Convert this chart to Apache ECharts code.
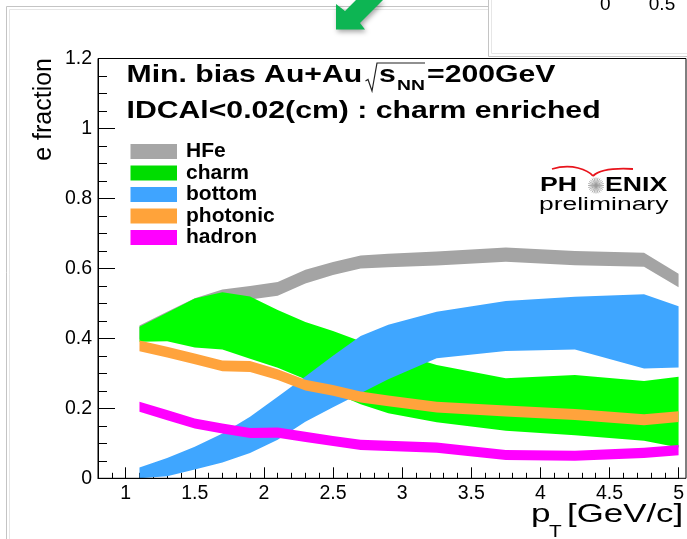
<!DOCTYPE html>
<html>
<head>
<meta charset="utf-8">
<script src="https://cdn.jsdelivr.net/npm/echarts@6/dist/echarts.min.js"></script>
<style>
  html, body { margin: 0; padding: 0; background: #fff; }
  #chart { width: 687px; height: 539px; }
</style>
</head>
<body>
<div id="chart"></div>
<script>
// ---- data ----
const pt = [1.1, 1.3, 1.5, 1.7, 1.9, 2.1, 2.3, 2.5, 2.7, 2.9, 3.25, 3.75, 4.25, 4.75, 5.0];

const hfeHi = [0.437, 0.476, 0.515, 0.540, 0.550, 0.561, 0.596, 0.618, 0.637, 0.642, 0.648, 0.660, 0.650, 0.645, 0.585];
const hfeLo = [0.397, 0.436, 0.476, 0.500, 0.511, 0.522, 0.557, 0.581, 0.600, 0.603, 0.608, 0.619, 0.609, 0.605, 0.546];

const charmHi = [0.433, 0.473, 0.514, 0.532, 0.520, 0.481, 0.447, 0.421, 0.392, 0.365, 0.324, 0.286, 0.295, 0.278, 0.290];
const charmLo = [0.390, 0.392, 0.374, 0.368, 0.342, 0.316, 0.283, 0.245, 0.212, 0.186, 0.160, 0.136, 0.123, 0.107, 0.088];

const bottomHi = [0.031, 0.058, 0.090, 0.128, 0.176, 0.233, 0.291, 0.350, 0.407, 0.439, 0.476, 0.507, 0.519, 0.526, 0.492];
const bottomLo = [-0.020, 0.006, 0.025, 0.045, 0.072, 0.110, 0.162, 0.203, 0.243, 0.283, 0.343, 0.364, 0.368, 0.314, 0.317];

const photonicHi = [0.394, 0.376, 0.357, 0.337, 0.335, 0.312, 0.282, 0.267, 0.248, 0.237, 0.219, 0.208, 0.198, 0.183, 0.192];
const photonicLo = [0.363, 0.345, 0.326, 0.306, 0.304, 0.281, 0.251, 0.236, 0.217, 0.206, 0.188, 0.177, 0.167, 0.152, 0.161];

const hadronHi = [0.219, 0.195, 0.171, 0.157, 0.144, 0.145, 0.133, 0.121, 0.110, 0.107, 0.102, 0.081, 0.079, 0.087, 0.095];
const hadronLo = [0.190, 0.166, 0.142, 0.128, 0.115, 0.116, 0.104, 0.092, 0.081, 0.078, 0.073, 0.052, 0.050, 0.058, 0.066];

const bandNames = ['HFe', 'charm', 'bottom', 'photonic', 'hadron'];
const xMajorTicks = [1, 1.5, 2, 2.5, 3, 3.5, 4, 4.5, 5];
const yMajorTicks = [0, 0.2, 0.4, 0.6, 0.8, 1, 1.2];

// ---- styling ----
const FONT = 'Liberation Sans, Arial, Helvetica, sans-serif';
const bandColors = ['#a4a4a4', '#00ff00', '#3fa6ff', '#ffa33c', '#ff00ff'];
const legendColors = ['#a6a6a6', '#00dd00', '#3fa4ff', '#ffa33a', '#ff00ff'];
const bandLo = [hfeLo, charmLo, bottomLo, photonicLo, hadronLo];
const bandHi = [hfeHi, charmHi, bottomHi, photonicHi, hadronHi];

// each band is one filled polygon between its lower and upper edge,
// positioned through the cartesian axes (api.coord)
function bandRenderer(color) {
  return function (params, api) {
    if (params.dataIndexInside !== 0) return null;
    const n = params.dataInsideLength;
    const upper = [], lower = [];
    for (let j = 0; j < n; j++) {
      const x = api.value(0, j);
      upper.push(api.coord([x, api.value(1, j)]));
      lower.push(api.coord([x, api.value(2, j)]));
    }
    const pts = upper.concat(lower.reverse());
    const cs = params.coordSys;
    return {
      type: 'polygon',
      shape: { points: echarts.graphic.clipPointsByRect(pts, { x: cs.x, y: cs.y, width: cs.width, height: cs.height }) },
      style: { fill: color, stroke: null }
    };
  };
}

const series = bandNames.map((name, k) => ({
  name: name,
  type: 'custom',
  clip: true,
  silent: true,
  itemStyle: { color: bandColors[k] },
  encode: { x: 0, y: 1 },
  data: pt.map((x, i) => [x, bandHi[k][i], bandLo[k][i]]),
  renderItem: bandRenderer(bandColors[k]),
  z: 2 + k
}));

function txt(x, y, text, size, opts) {
  opts = opts || {};
  return {
    type: 'text', x: x, y: y,
    scaleX: opts.sx || 1, scaleY: opts.sy || 1,
    rotation: opts.rot || 0, z: 50,
    style: {
      text: text, fill: opts.color || '#000',
      fontFamily: FONT, fontSize: size, fontWeight: opts.bold ? 'bold' : 'normal',
      align: opts.align || 'left', verticalAlign: 'middle',
      textAlign: opts.align || 'left', textVerticalAlign: 'middle'
    }
  };
}

// star of the PHENIX logo
const star = [];
for (let i = 0; i < 12; i++) {
  const a = i * Math.PI / 12;
  star.push({
    type: 'line', z: 50,
    shape: { x1: 596 - 8 * Math.cos(a), y1: 185.5 - 8 * Math.sin(a), x2: 596 + 8 * Math.cos(a), y2: 185.5 + 8 * Math.sin(a) },
    style: { stroke: '#9a9a9a', lineWidth: 0.8 }
  });
}

const graphics = [
  // slide panel frames
  { type: 'polyline', z: 1, shape: { points: [[6.5, 539], [6.5, 6.5], [488.5, 6.5]] }, style: { stroke: '#c4c4c4', lineWidth: 1, fill: null } },
  { type: 'polyline', z: 1, shape: { points: [[9.5, 539], [9.5, 9.5], [488.5, 9.5]] }, style: { stroke: '#e6e6e6', lineWidth: 1, fill: null } },
  { type: 'polyline', z: 1, shape: { points: [[488.5, 0], [488.5, 56.5], [687, 56.5]] }, style: { stroke: '#c4c4c4', lineWidth: 1, fill: null } },
  { type: 'polyline', z: 1, shape: { points: [[491.5, 0], [491.5, 53.5], [687, 53.5]] }, style: { stroke: '#e6e6e6', lineWidth: 1, fill: null } },
  txt(600, 4.5, '0', 19),
  txt(662, 4.5, '0.5', 19, { align: 'center' }),
  // green arrow
  { type: 'polygon', z: 60,
    shape: { points: [[336, 29.5], [336, 4], [345, 11], [356, 0], [383, 0], [360, 23], [365, 29.5]] },
    style: { fill: '#0db553', shadowBlur: 5, shadowColor: 'rgba(0,0,0,0.35)', shadowOffsetX: 1.5, shadowOffsetY: 2.5 } },
  // title lines
  txt(126.5, 75.5, 'Min. bias Au+Au', 23.5, { bold: true, sx: 1.285 }),
  { type: 'polyline', z: 50, shape: { points: [[365.5, 81], [368, 79.5], [372, 91], [377, 63], [425, 63]] }, style: { stroke: '#222', lineWidth: 1.2, fill: null } },
  txt(379, 75.5, 's', 23.5, { bold: true, sx: 1.285 }),
  txt(397, 86, 'NN', 15, { bold: true, sx: 1.285 }),
  txt(427, 75.5, '=200GeV', 23.5, { bold: true, sx: 1.285 }),
  txt(126.5, 111.5, 'IDCAl<0.02(cm) : charm enriched', 23.5, { bold: true, sx: 1.285 }),
  // PHENIX logo
  { type: 'bezierCurve', z: 50, shape: { x1: 552, y1: 169, cpx1: 572, cpy1: 163, cpx2: 588, cpy2: 170, x2: 593, y2: 176 }, style: { stroke: '#e8141c', lineWidth: 1.8, fill: null } },
  { type: 'bezierCurve', z: 50, shape: { x1: 593, y1: 176, cpx1: 600, cpy1: 169, cpx2: 615, cpy2: 168, x2: 633, y2: 169 }, style: { stroke: '#e8141c', lineWidth: 1.8, fill: null } },
  txt(540, 185.5, 'PH', 21, { bold: true, sx: 1.27 }),
  txt(605, 185.5, 'ENIX', 21, { bold: true, sx: 1.27 }),
  txt(539, 205.5, 'preliminary', 18, { sx: 1.47 }),
  // axis titles
  txt(43.8, 58, 'e fraction', 25, { rot: Math.PI / 2, align: 'right' }),
  txt(531, 515, 'p', 26, { sx: 1.35 }),
  txt(549, 533, 'T', 16, { sx: 1.3 }),
  txt(567, 515, '[GeV/c]', 26, { sx: 1.34 }),
  // plot frame on top
  { type: 'rect', z: 100, shape: { x: 98, y: 58.5, width: 588, height: 419.8 }, style: { stroke: '#000', lineWidth: 1, fill: null } }
].concat(star);

const chart = echarts.init(document.getElementById('chart'), null, { renderer: 'canvas' });
chart.setOption({
  animation: false,
  backgroundColor: '#fff',
  grid: { left: 98, right: 1, top: 58.5, bottom: 60.7, containLabel: false },
  legend: {
    data: bandNames.map((n, k) => ({ name: n, icon: 'rect', itemStyle: { color: legendColors[k] } })),
    orient: 'vertical', left: 130.5, top: 141, padding: 0,
    itemGap: 0.5, itemWidth: 46.5, itemHeight: 15, icon: 'rect',
    selectedMode: false,
    textStyle: { fontFamily: FONT, fontWeight: 'bold', fontSize: 21, lineHeight: 21, color: '#000', padding: [0, 0, 0, 4] }
  },
  xAxis: [
    {
      type: 'value', min: 0.8, max: 5, interval: 0.1, position: 'bottom',
      axisLine: { onZero: false, lineStyle: { color: '#000', width: 1 } },
      axisTick: { inside: true, length: 5.5, lineStyle: { color: '#000' } },
      axisLabel: {
        margin: 5, color: '#000', fontFamily: FONT, fontSize: 19.5,
        formatter: v => { const r = Math.round(v * 10); return r % 5 === 0 ? String(r / 10) : ''; }
      },
      splitLine: { show: false }
    },
    {
      type: 'value', min: 0.8, max: 5, position: 'bottom', offset: 0,
      axisLine: { show: false, onZero: false },
      axisTick: { show: true, inside: true, length: 11, customValues: xMajorTicks, lineStyle: { color: '#000' } },
      axisLabel: { show: false },
      splitLine: { show: false }
    }
  ],
  yAxis: [
    {
      type: 'value', min: 0, max: 1.2, interval: 0.05, position: 'left',
      axisLine: { show: true, onZero: false, lineStyle: { color: '#000', width: 1 } },
      axisTick: { show: true, inside: true, length: 9, lineStyle: { color: '#000' } },
      axisLabel: {
        margin: 6, color: '#000', fontFamily: FONT, fontSize: 19.5,
        formatter: v => { const r = Math.round(v * 20); return r % 4 === 0 ? String(r / 20) : ''; }
      },
      splitLine: { show: false }
    },
    {
      type: 'value', min: 0, max: 1.2, position: 'left', offset: 0,
      axisLine: { show: false, onZero: false },
      axisTick: { show: true, inside: true, length: 17, customValues: yMajorTicks, lineStyle: { color: '#000' } },
      axisLabel: { show: false },
      splitLine: { show: false }
    }
  ],
  series: series,
  graphic: { elements: graphics }
});
</script>
</body>
</html>
